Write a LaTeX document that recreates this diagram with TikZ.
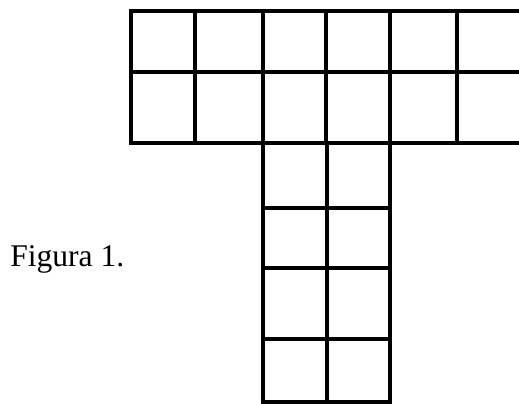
\documentclass[tikz,border=0pt]{standalone}
\usepackage{fontspec}
\setmainfont{Liberation Serif}
\begin{document}
\begin{tikzpicture}[x=0.75pt,y=-0.75pt,
  gridline/.style={line width=2.6pt,black,line cap=rect},
  label/.style={font=\fontsize{23.7pt}{28pt}\selectfont,inner sep=0pt,anchor=base west}]
\useasboundingbox (0,0) rectangle (519,404);
% top block: horizontal lines
\foreach \y in {11,72,143} \draw[gridline] (131,\y) -- (521,\y);
% top block: vertical lines
\foreach \x in {131,195,263,326,390,457} \draw[gridline] (\x,11) -- (\x,143);
% stem: vertical lines
\foreach \x in {263,327,390} \draw[gridline] (\x,143) -- (\x,402);
% stem: horizontal lines
\foreach \y in {208,268,339,402} \draw[gridline] (263,\y) -- (390,\y);
\node[label] (fig) at (10,266.5) {Figura 1.};
\end{tikzpicture}
\end{document}
